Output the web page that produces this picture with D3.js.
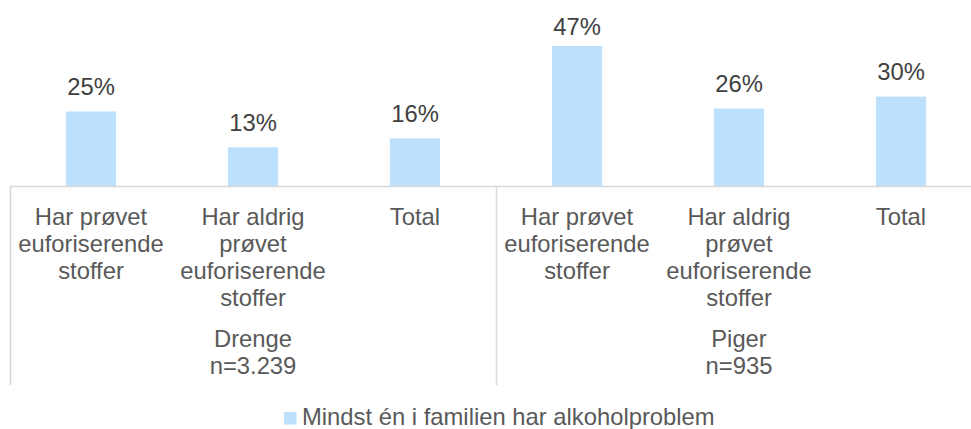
<!DOCTYPE html>
<html>
<head>
<meta charset="utf-8">
<script src="https://cdn.jsdelivr.net/npm/d3@7"></script>
<style>
  html, body { margin: 0; padding: 0; background: #ffffff; }
  svg { display: block; font-family: "Liberation Sans", Arial, sans-serif; }
</style>
</head>
<body>
<svg id="chart" width="971" height="429"></svg>
<script>
// Share with at least one family member having an alcohol problem (%)
const groups = ["Drenge", "Piger"];
const groupN = ["n=3.239", "n=935"];
const subLabels = [
  ["Har prøvet", "euforiserende", "stoffer"],
  ["Har aldrig", "prøvet", "euforiserende", "stoffer"],
  ["Total"]
];
const categories = ["D1", "D2", "D3", "P1", "P2", "P3"];
const values = [25, 13, 16, 47, 26, 30];
const seriesName = "Mindst én i familien har alkoholproblem";

const barColor = "#bde1fc";
const textColor = "#595959";
const valueColor = "#404040";
const axisColor = "#d9d9d9";
const fontSize = 23.8;

const svg = d3.select("#chart");
const baseY = 186;

const x = d3.scaleBand()
  .domain(categories)
  .range([10, 982])
  .paddingInner(0.69)
  .paddingOuter(0.345);

const y = d3.scaleLinear()
  .domain([0, 50])
  .range([baseY, baseY - 149]);

// Bars
svg.append("g").selectAll("rect")
  .data(values)
  .join("rect")
  .attr("x", (d, i) => x(categories[i]))
  .attr("y", d => y(d))
  .attr("width", x.bandwidth())
  .attr("height", d => y(0) - y(d))
  .attr("fill", barColor);

// Value labels (kept inside the top edge of the plot)
svg.append("g").selectAll("text")
  .data(values)
  .join("text")
  .attr("x", (d, i) => x(categories[i]) + x.bandwidth() / 2)
  .attr("y", d => Math.max(y(d) - 16.5, 35))
  .attr("text-anchor", "middle")
  .attr("font-size", fontSize)
  .attr("fill", valueColor)
  .text(d => d + "%");

// Category axis line and group separators
const step = x.step();
svg.append("line")
  .attr("x1", 10).attr("x2", 971)
  .attr("y1", baseY + 0.5).attr("y2", baseY + 0.5)
  .attr("stroke", axisColor).attr("stroke-width", 1.5);

[0, 3, 6].forEach(k => {
  const sx = Math.round(10 + k * step) + 0.5;
  svg.append("line")
    .attr("x1", sx).attr("x2", sx)
    .attr("y1", baseY).attr("y2", 385)
    .attr("stroke", axisColor).attr("stroke-width", 1.5);
});

// Sub-category labels
categories.forEach((c, i) => {
  const lines = subLabels[i % 3];
  const cx = x(c) + x.bandwidth() / 2;
  const t = svg.append("text")
    .attr("text-anchor", "middle")
    .attr("font-size", fontSize)
    .attr("fill", textColor);
  lines.forEach((ln, j) => {
    t.append("tspan").attr("x", cx).attr("y", 224.5 + j * 27).text(ln);
  });
});

// Group labels
groups.forEach((g, gi) => {
  const cx = 10 + (gi * 3 + 1.5) * step;
  const t = svg.append("text")
    .attr("text-anchor", "middle")
    .attr("font-size", fontSize)
    .attr("fill", textColor);
  t.append("tspan").attr("x", cx).attr("y", 346.5).text(g);
  t.append("tspan").attr("x", cx).attr("y", 373.5).text(groupN[gi]);
});

// Legend
const legend = svg.append("g");
legend.append("rect")
  .attr("x", 284).attr("y", 412).attr("width", 12.5).attr("height", 12.5)
  .attr("fill", barColor);
legend.append("text")
  .attr("x", 302).attr("y", 424.5)
  .attr("font-size", fontSize)
  .attr("fill", textColor)
  .text(seriesName);
</script>
</body>
</html>
